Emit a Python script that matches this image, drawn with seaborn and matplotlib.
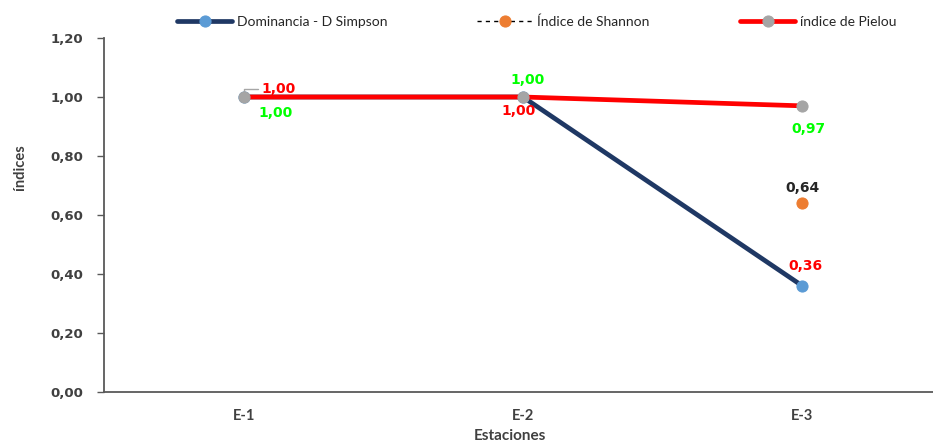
import numpy as np
import pandas as pd
import matplotlib
matplotlib.use("Agg")
import matplotlib.pyplot as plt
import seaborn as sns

# Station indices
estaciones = ["E-1", "E-2", "E-3"]
simpson = [1.00, 1.00, 0.36]
shannon = [np.nan, np.nan, 0.64]
pielou = [1.00, 1.00, 0.97]
yticks = [0.0, 0.2, 0.4, 0.6, 0.8, 1.0, 1.2]

sns.set_theme(style="white")
plt.rcParams["font.family"] = ["DejaVu Sans"]

df = pd.DataFrame({"Estaciones": estaciones, "simpson": simpson,
                   "shannon": shannon, "pielou": pielou})

fig = plt.figure(figsize=(9.33, 4.46), dpi=100)
ax = fig.add_axes([0.1115, 0.1211, 0.898, 0.7937])

txt = "#404040"
navy = "#1F3864"
red = "#FF0000"

sns.lineplot(data=df, x="Estaciones", y="simpson", ax=ax, color=navy, lw=3.4,
             marker="o", markersize=8, markerfacecolor="#5B9BD5",
             markeredgecolor="#5B9BD5", label="Dominancia - D Simpson", zorder=3)
sns.lineplot(data=df, x="Estaciones", y="shannon", ax=ax, color="black", lw=1,
             linestyle=(0, (3, 3)), marker="o", markersize=8,
             markerfacecolor="#ED7D31", markeredgecolor="#ED7D31",
             label="Índice de Shannon", zorder=4)
sns.lineplot(data=df, x="Estaciones", y="pielou", ax=ax, color=red, lw=3.4,
             marker="o", markersize=8, markerfacecolor="#A5A5A5",
             markeredgecolor="#A5A5A5", label="índice de Pielou", zorder=5)

# value labels (offsets in pixels)
lab_kw = dict(textcoords="offset pixels", ha="center", va="center",
              fontsize=10, fontweight="bold", zorder=6)

def fmt(v):
    return f"{v:.2f}".replace(".", ",")

simpson_off = [(35, 8), (-4, -14), (3, 20)]
shannon_off = [None, None, (0, 15)]
pielou_off = [(32, -16), (5, 17), (6, -23)]

for i, v in enumerate(simpson):
    dx, dy = simpson_off[i]
    if i == 0:
        ax.annotate(fmt(v), (i, v), xytext=(dx, dy), color=red,
                    arrowprops=dict(arrowstyle="-", color="#A6A6A6", lw=1,
                                    connectionstyle="angle,angleA=0,angleB=90,rad=0",
                                    shrinkA=14, shrinkB=4, relpos=(0, 0.5)),
                    **lab_kw)
    else:
        ax.annotate(fmt(v), (i, v), xytext=(dx, dy), color=red, **lab_kw)
for i, v in enumerate(shannon):
    if not np.isnan(v):
        dx, dy = shannon_off[i]
        ax.annotate(fmt(v), (i, v), xytext=(dx, dy), color="#262626", **lab_kw)
for i, v in enumerate(pielou):
    dx, dy = pielou_off[i]
    ax.annotate(fmt(v), (i, v), xytext=(dx, dy), color="#00FF00", **lab_kw)

ax.set_xlim(-0.5, 2.5)
ax.set_ylim(0, 1.2)
ax.set_yticks(yticks)
ax.set_yticklabels([fmt(t) for t in yticks], fontsize=9.5, fontweight="bold",
                   color=txt)
ax.set_xticks(range(3))
ax.set_xticklabels(estaciones, fontsize=10.5, fontweight="bold", color=txt,
                   family="Lato")
ax.set_xticks([0.5, 1.5], minor=True)
ax.tick_params(axis="x", which="major", length=0, pad=12)
ax.tick_params(axis="x", which="minor", length=6, direction="in",
               color="#595959", width=1)
ax.tick_params(axis="y", length=5, direction="out", color="#595959", width=1,
               pad=10, left=True)

for s in ["top", "right"]:
    ax.spines[s].set_visible(False)
for s in ["left", "bottom"]:
    ax.spines[s].set_color("#595959")
    ax.spines[s].set_linewidth(1.3)

ax.set_xlabel("Estaciones", fontsize=11, fontweight="bold", color=txt,
              family="Lato")
ax.xaxis.set_label_coords(0.4845, -0.105)
ax.set_ylabel("índices", fontsize=10.5, fontweight="bold", color=txt,
              family="Lato")
ax.yaxis.set_label_coords(-0.092, 0.636)

handles, labels = ax.get_legend_handles_labels()
ax.get_legend().remove()
fig.legend(handles, labels, loc="center", bbox_to_anchor=(0.575, 0.952),
           ncol=3, frameon=False, handlelength=4.0,
           columnspacing=6.5, handletextpad=0.3, labelcolor="#262626",
           prop={"family": "Lato", "size": 10})

fig.savefig("out.png", dpi=100)
